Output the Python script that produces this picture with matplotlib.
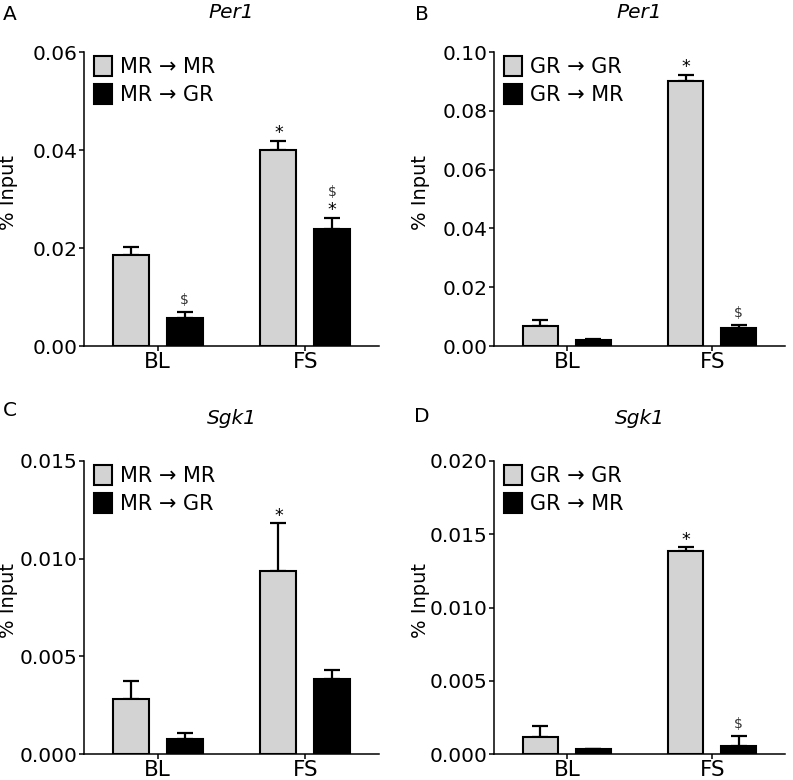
import matplotlib
matplotlib.use("Agg")
import matplotlib.pyplot as plt
import numpy as np
from matplotlib.patches import Patch

plt.rcParams['font.family'] = ['DejaVu Sans']

categories = ["BL", "FS"]

# Panel A: Per1, MR ChIP
a_labels = ["MR \u2192 MR", "MR \u2192 GR"]
a_gray = [0.0185, 0.0400]
a_gray_err = [0.0018, 0.0019]
a_black = [0.0057, 0.0238]
a_black_err = [0.0012, 0.0024]
a_gray_sig = ["", "*"]
a_black_sig = ["$", "*"]
a_black_sig2 = ["", "$"]

# Panel B: Per1, GR ChIP
b_labels = ["GR \u2192 GR", "GR \u2192 MR"]
b_gray = [0.0068, 0.0900]
b_gray_err = [0.0020, 0.0022]
b_black = [0.0020, 0.0062]
b_black_err = [0.0004, 0.0009]
b_gray_sig = ["", "*"]
b_black_sig = ["", "$"]
b_black_sig2 = ["", ""]

# Panel C: Sgk1, MR ChIP
c_labels = ["MR \u2192 MR", "MR \u2192 GR"]
c_gray = [0.0028, 0.00936]
c_gray_err = [0.00093, 0.00245]
c_black = [0.00077, 0.00384]
c_black_err = [0.00029, 0.00046]
c_gray_sig = ["", "*"]
c_black_sig = ["", ""]
c_black_sig2 = ["", ""]

# Panel D: Sgk1, GR ChIP
d_labels = ["GR \u2192 GR", "GR \u2192 MR"]
d_gray = [0.00118, 0.01383]
d_gray_err = [0.00073, 0.00028]
d_black = [0.00032, 0.00057]
d_black_err = [0.00004, 0.00066]
d_gray_sig = ["", "*"]
d_black_sig = ["", "$"]
d_black_sig2 = ["", ""]

panels = [
    ("A", "Per1", a_labels, a_gray, a_gray_err, a_black, a_black_err, a_gray_sig, a_black_sig, a_black_sig2,
     [0.0, 0.02, 0.04, 0.06], ["0.00", "0.02", "0.04", "0.06"]),
    ("B", "Per1", b_labels, b_gray, b_gray_err, b_black, b_black_err, b_gray_sig, b_black_sig, b_black_sig2,
     [0.0, 0.02, 0.04, 0.06, 0.08, 0.10], ["0.00", "0.02", "0.04", "0.06", "0.08", "0.10"]),
    ("C", "Sgk1", c_labels, c_gray, c_gray_err, c_black, c_black_err, c_gray_sig, c_black_sig, c_black_sig2,
     [0.0, 0.005, 0.010, 0.015], ["0.000", "0.005", "0.010", "0.015"]),
    ("D", "Sgk1", d_labels, d_gray, d_gray_err, d_black, d_black_err, d_gray_sig, d_black_sig, d_black_sig2,
     [0.0, 0.005, 0.010, 0.015, 0.020], ["0.000", "0.005", "0.010", "0.015", "0.020"]),
]

W, H = 793, 780
fig = plt.figure(figsize=(W / 100, H / 100), dpi=100)

# pixel boxes: left, right, top, bottom
boxes = [(84, 379, 52, 346), (494, 785, 52, 346), (84, 379, 461, 754), (494, 785, 461, 754)]
letter_pos = [(10, 14), (422, 14), (10, 411), (422, 417)]
title_y = [13, 13, 418, 418]
ylab_x = [9, 421, 9, 421]

gray_c = "#d3d3d3"
bw = 0.243
off = 0.182
x = np.arange(len(categories))


def sig(ax, xv, yv, s, above):
    if s == "*":
        ax.annotate(s, (xv, yv), xytext=(0, 2 + above), textcoords="offset points",
                    ha="center", va="baseline", fontsize=12.5)
    else:
        ax.annotate(s, (xv, yv), xytext=(0, 6 + above), textcoords="offset points",
                    ha="center", va="baseline", fontsize=10, color="#333333")


for i, (let, title, labels, g, ge, b, be, gs, bs, bs2, ticks, tlabels) in enumerate(panels):
    l, r, t, bt = boxes[i]
    ax = fig.add_axes([l / W, 1 - bt / H, (r - l) / W, (bt - t) / H])
    ax.bar(x - off, g, width=bw, color=gray_c, edgecolor="black", linewidth=1.5, zorder=3)
    ax.bar(x + off, b, width=bw, color="black", edgecolor="black", linewidth=1.5, zorder=3)
    ax.errorbar(x - off, g, yerr=[np.zeros(len(g)), ge], fmt="none", ecolor="black",
                elinewidth=1.6, capsize=6, capthick=1.6, zorder=2)
    ax.errorbar(x + off, b, yerr=[np.zeros(len(b)), be], fmt="none", ecolor="black",
                elinewidth=1.6, capsize=6, capthick=1.6, zorder=2)
    for j in range(len(categories)):
        if gs[j]:
            sig(ax, x[j] - off, g[j] + ge[j], gs[j], 0)
        if bs[j]:
            sig(ax, x[j] + off, b[j] + be[j], bs[j], 0)
        if bs2[j]:
            sig(ax, x[j] + off, b[j] + be[j], bs2[j], 9.5)
    ax.set_xlim(-0.5, 1.5)
    ax.set_ylim(ticks[0], ticks[-1])
    ax.set_yticks(ticks)
    ax.set_yticklabels(tlabels)
    ax.set_xticks(x)
    ax.set_xticklabels(categories)
    for s in ["top", "right"]:
        ax.spines[s].set_visible(False)
    for s in ["left", "bottom"]:
        ax.spines[s].set_linewidth(1.1)
    ax.tick_params(axis="y", labelsize=14.5, length=3.5, width=1.1, direction="out", pad=1)
    ax.tick_params(axis="x", labelsize=15.5, length=3.5, width=1.1, direction="out", pad=1)
    handles = [Patch(facecolor=gray_c, edgecolor="black", linewidth=1.5),
               Patch(facecolor="black", edgecolor="black", linewidth=1.5)]
    ax.legend(handles, labels, loc="upper left",
              bbox_to_anchor=(10 / (r - l), 1.0 - 4 / (bt - t)), frameon=False,
              fontsize=15, handlelength=0.85, handleheight=1.1, handletextpad=0.4,
              labelspacing=0.35, borderaxespad=0.0, borderpad=0.0)
    fig.text(letter_pos[i][0] / W, 1 - letter_pos[i][1] / H, let, fontsize=14.5, ha="center", va="center")
    fig.text((l + r) / 2 / W, 1 - title_y[i] / H, title, fontsize=14.5, style="italic",
             ha="center", va="center")
    fig.text(ylab_x[i] / W, 1 - ((t + bt) / 2 - 7) / H, "% Input", fontsize=14, rotation=90,
             ha="center", va="center")

fig.savefig("out.png", dpi=100)
